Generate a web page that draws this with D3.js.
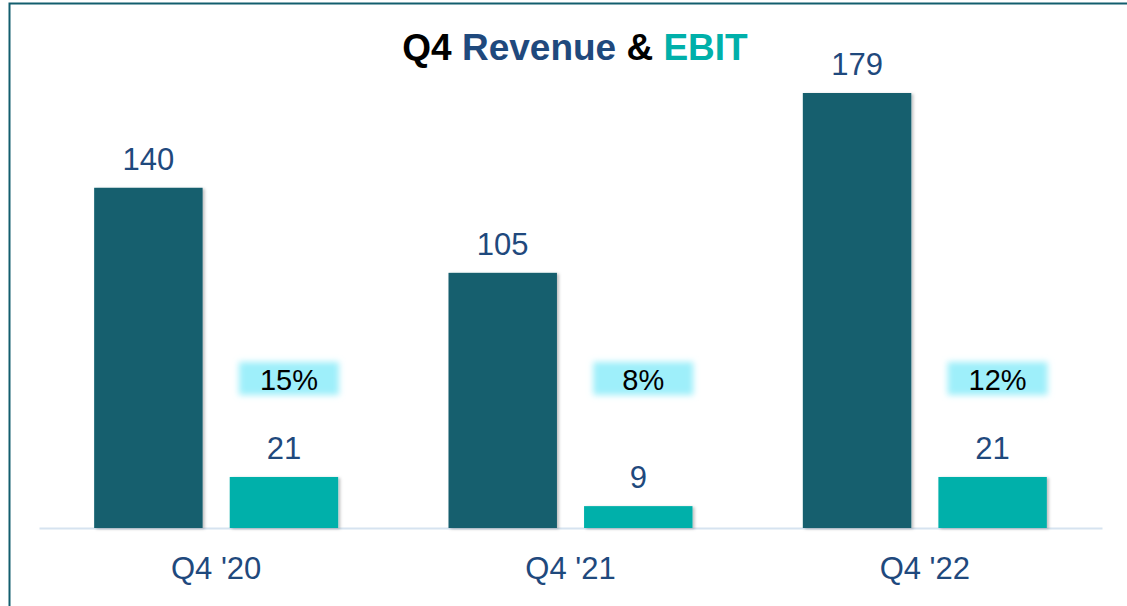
<!DOCTYPE html>
<html>
<head>
<meta charset="utf-8">
<script src="https://cdn.jsdelivr.net/npm/d3@7"></script>
<style>
  body { margin:0; background:#fff; }
  text { font-family: Arial, "Liberation Sans", sans-serif; }
</style>
</head>
<body>
<div id="chart-area"></div>
<script>
var quarters = ["Q4 '20", "Q4 '21", "Q4 '22"];
var revenue = [140, 105, 179];
var ebit = [21, 9, 21];
var margins = ["15%", "8%", "12%"];

var W = 1127, H = 606;
var margin = { left:39, right:25, top:60, bottom:78 };
var width = W - margin.left - margin.right,
    height = H - margin.top - margin.bottom;

var svg = d3.select("#chart-area").append("svg")
    .attr("width", W).attr("height", H);

var defs = svg.append("defs");
var sh = defs.append("filter").attr("id", "shadow")
    .attr("x", "-10%").attr("y", "-10%").attr("width", "130%").attr("height", "130%");
sh.append("feDropShadow").attr("dx", 2).attr("dy", 1).attr("stdDeviation", 1.5)
    .attr("flood-color", "#000").attr("flood-opacity", 0.25);
var glow = defs.append("filter").attr("id", "glow")
    .attr("x", "-20%").attr("y", "-40%").attr("width", "140%").attr("height", "180%");
glow.append("feGaussianBlur").attr("stdDeviation", 3);

// frame
svg.append("path")
    .attr("d", "M9.5," + H + " V3.5 H" + W)
    .attr("fill", "none").attr("stroke", "#135e6e").attr("stroke-width", 2);

var g = svg.append("g")
    .attr("transform", "translate(" + margin.left + "," + margin.top + ")");

var x0 = d3.scaleBand().domain(quarters).range([0, width]);
var x1 = d3.scaleBand().domain(["rev", "ebit"]).range([0, 244]).paddingInner(0.2);
var y = d3.scaleLinear().domain([0, 179]).range([height, height - 435]);

// axis
var xAxis = g.append("g").attr("transform", "translate(0," + height + ")")
    .call(d3.axisBottom(x0).tickSize(0).tickPadding(29));
xAxis.select(".domain").attr("stroke", "#d6e3f0").attr("stroke-width", 2);
xAxis.selectAll("text").attr("font-size", "31px").attr("fill", "#1f497d")
    .attr("font-family", "Arial, 'Liberation Sans', sans-serif");

var groups = g.selectAll(".grp").data(quarters).enter().append("g")
    .attr("class", "grp")
    .attr("transform", function(d){ return "translate(" + (x0(d) + x0.bandwidth()/2 - 122) + ",0)"; });

groups.append("rect")
    .attr("x", x1("rev")).attr("width", x1.bandwidth())
    .attr("y", function(d, i){ return y(revenue[i]); })
    .attr("height", function(d, i){ return height - y(revenue[i]); })
    .attr("fill", "#135e6e").attr("filter", "url(#shadow)");

groups.append("rect")
    .attr("x", x1("ebit")).attr("width", x1.bandwidth())
    .attr("y", function(d, i){ return y(ebit[i]); })
    .attr("height", function(d, i){ return height - y(ebit[i]); })
    .attr("fill", "#00b0aa").attr("filter", "url(#shadow)");

groups.append("text")
    .attr("x", x1("rev") + x1.bandwidth()/2)
    .attr("y", function(d, i){ return y(revenue[i]) - 18; })
    .attr("text-anchor", "middle").attr("font-size", "31px").attr("fill", "#1f497d")
    .text(function(d, i){ return revenue[i]; });

groups.append("text")
    .attr("x", x1("ebit") + x1.bandwidth()/2)
    .attr("y", function(d, i){ return y(ebit[i]) - 18; })
    .attr("text-anchor", "middle").attr("font-size", "31px").attr("fill", "#1f497d")
    .text(function(d, i){ return ebit[i]; });

// margin boxes
var mx = x1("ebit") + x1.bandwidth()/2 + 5;
groups.append("rect")
    .attr("x", mx - 50).attr("width", 100)
    .attr("y", 302).attr("height", 33)
    .attr("fill", "#9eeffa").attr("filter", "url(#glow)");
groups.append("text")
    .attr("x", mx).attr("y", 330)
    .attr("text-anchor", "middle").attr("font-size", "29px").attr("fill", "#000")
    .text(function(d, i){ return margins[i]; });

// title
var title = svg.append("text")
    .attr("x", 575).attr("y", 60)
    .attr("text-anchor", "middle").attr("font-size", "37px").attr("font-weight", "bold");
title.append("tspan").attr("fill", "#000").text("Q4 ");
title.append("tspan").attr("fill", "#1f497d").text("Revenue");
title.append("tspan").attr("fill", "#000").text(" & ");
title.append("tspan").attr("fill", "#00b0aa").text("EBIT");
</script>
</body>
</html>
